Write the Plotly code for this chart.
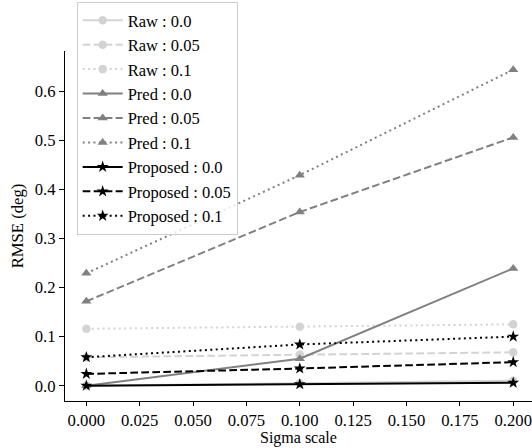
import plotly.graph_objects as go

sigma_scale = [0.0, 0.1, 0.2]

raw_00 = [0.0, 0.005, 0.010]
raw_005 = [0.058, 0.063, 0.068]
raw_01 = [0.116, 0.120, 0.125]
pred_00 = [0.0, 0.055, 0.239]
pred_005 = [0.172, 0.354, 0.506]
pred_01 = [0.229, 0.429, 0.644]
prop_00 = [0.0, 0.003, 0.006]
prop_005 = [0.024, 0.035, 0.048]
prop_01 = [0.058, 0.084, 0.100]

x_tick_vals = [0, 0.025, 0.05, 0.075, 0.1, 0.125, 0.15, 0.175, 0.2]
x_tick_text = ["0.000", "0.025", "0.050", "0.075", "0.100", "0.125", "0.150", "0.175", "0.200"]
y_tick_vals = [0, 0.1, 0.2, 0.3, 0.4, 0.5, 0.6]
y_tick_text = ["0.0", "0.1", "0.2", "0.3", "0.4", "0.5", "0.6"]

DASH = "7.7px,3.3px"
DOT = "2px,3.4px"
series = [
    ("Raw : 0.0", raw_00, "#d3d3d3", "solid", "circle", 8.5),
    ("Raw : 0.05", raw_005, "#d3d3d3", DASH, "circle", 8.5),
    ("Raw : 0.1", raw_01, "#d3d3d3", DOT, "circle", 8.5),
    ("Pred : 0.0", pred_00, "#808080", "solid", "triangle-up", 9),
    ("Pred : 0.05", pred_005, "#808080", DASH, "triangle-up", 9),
    ("Pred : 0.1", pred_01, "#808080", DOT, "triangle-up", 9),
    ("Proposed : 0.0", prop_00, "#000000", "solid", "star", 9),
    ("Proposed : 0.05", prop_005, "#000000", DASH, "star", 9),
    ("Proposed : 0.1", prop_01, "#000000", DOT, "star", 9),
]

FONT = "Liberation Serif, Times New Roman, serif"
FS = 16.67

fig = go.Figure()
for name, vals, color, dash, symbol, size in series:
    fig.add_trace(go.Scatter(
        x=sigma_scale, y=vals, name=name, mode="lines+markers",
        line=dict(color=color, width=2, dash=dash),
        marker=dict(symbol=symbol, size=size, color=color, line=dict(width=0)),
    ))

fig.update_layout(
    width=532, height=448,
    margin=dict(l=65, r=0, t=51, b=47, autoexpand=False),
    plot_bgcolor="white", paper_bgcolor="white",
    font=dict(family=FONT, size=FS, color="black"),
    legend=dict(
        x=0.025, y=0.4743, xanchor="left", yanchor="bottom",
        bordercolor="#cccccc", borderwidth=1, bgcolor="rgba(255,255,255,0.8)",
        font=dict(family=FONT, size=16.5, color="black"),
        itemwidth=40, tracegroupgap=0,
    ),
    showlegend=True,
    annotations=[dict(
        text="Sigma scale", xref="paper", yref="paper", x=0.5, y=-0.1340,
        xanchor="center", yanchor="bottom", showarrow=False, borderpad=0,
        font=dict(family=FONT, size=16, color="black"),
    )],
)

fig.update_xaxes(
    range=[-0.01, 0.2088], tickmode="array",
    tickvals=x_tick_vals, ticktext=x_tick_text,
    showline=True, linecolor="black", linewidth=1.1,
    ticks="outside", ticklen=4, tickwidth=1.1, tickcolor="black",
    showgrid=False, zeroline=False, automargin=False,
    tickfont=dict(family=FONT, size=FS),
)
fig.update_yaxes(
    range=[-0.0312, 0.6821], tickmode="array",
    tickvals=y_tick_vals, ticktext=y_tick_text,
    showline=True, linecolor="black", linewidth=1.1,
    ticks="outside", ticklen=5, tickwidth=1.1, tickcolor="black",
    showgrid=False, zeroline=False, automargin=False,
    title=dict(text="RMSE (deg)", standoff=6, font=dict(family=FONT, size=FS)),
    tickfont=dict(family=FONT, size=FS),
)

fig.write_html("out.html")
